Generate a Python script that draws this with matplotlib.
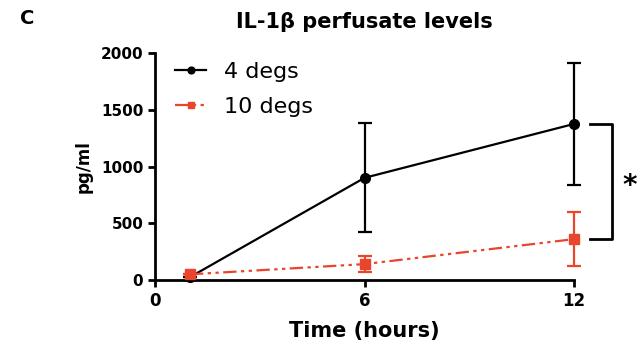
import matplotlib.pyplot as plt

time = [1, 6, 12]
cold_mean = [25, 900, 1375]
cold_err = [0, 480, 535]
warm_mean = [50, 140, 360]
warm_err = [0, 70, 235]
labels = ["4 degs", "10 degs"]
red = "#E8452C"


def main():
    fig = plt.figure(figsize=(6.41, 3.48), dpi=100)
    ax = fig.add_axes([0.2418, 0.1954, 0.6537, 0.6523])

    c1 = ax.errorbar(time, cold_mean, yerr=cold_err, color="black", lw=1.6,
                     marker="o", ms=7, capsize=5, capthick=1.6,
                     clip_on=False, zorder=3)
    c2 = ax.errorbar(time, warm_mean, yerr=warm_err, color=red, lw=1.6,
                     marker="s", ms=7, capsize=5, capthick=1.6,
                     dashes=(6, 2, 1.5, 2, 1.5, 2), clip_on=False, zorder=3)

    ax.set_xlim(0, 12)
    ax.set_ylim(0, 2000)
    ax.set_xticks([0, 6, 12])
    ax.set_yticks([0, 500, 1000, 1500, 2000])
    for s in ["top", "right"]:
        ax.spines[s].set_visible(False)
    for s in ["left", "bottom"]:
        ax.spines[s].set_linewidth(2)
    ax.tick_params(width=2, length=5)
    for t in ax.get_xticklabels() + ax.get_yticklabels():
        t.set_fontweight("bold")
    ax.tick_params(axis="y", labelsize=11)
    ax.tick_params(axis="x", labelsize=12)

    ax.set_xlabel("Time (hours)", fontsize=15, fontweight="bold", labelpad=8)
    ax.set_ylabel("pg/ml", fontsize=12, fontweight="bold", labelpad=6)
    ax.set_title("IL-1β perfusate levels", fontsize=15, fontweight="bold", pad=18)
    fig.text(0.031, 0.93, "C", fontsize=14, fontweight="bold")

    h1 = c1.lines[0]
    h2 = c2.lines[0]
    ax.legend([h1, h2], labels, loc="upper left", bbox_to_anchor=(0.0, 1.05),
              frameon=False, fontsize=16, handlelength=1.4,
              labelspacing=0.7, handletextpad=0.8, markerscale=0.7)

    # significance bracket
    bx0, bx1 = 12.45, 13.1
    ax.plot([bx0, bx1, bx1, bx0], [cold_mean[2], cold_mean[2], warm_mean[2], warm_mean[2]],
            color="black", lw=2, clip_on=False)
    ax.text(13.6, (cold_mean[2] + warm_mean[2]) / 2 - 40, "*", fontsize=20,
            fontweight="bold", ha="center", va="center")

    fig.savefig("out.png", dpi=100)


if __name__ == "__main__":
    main()
